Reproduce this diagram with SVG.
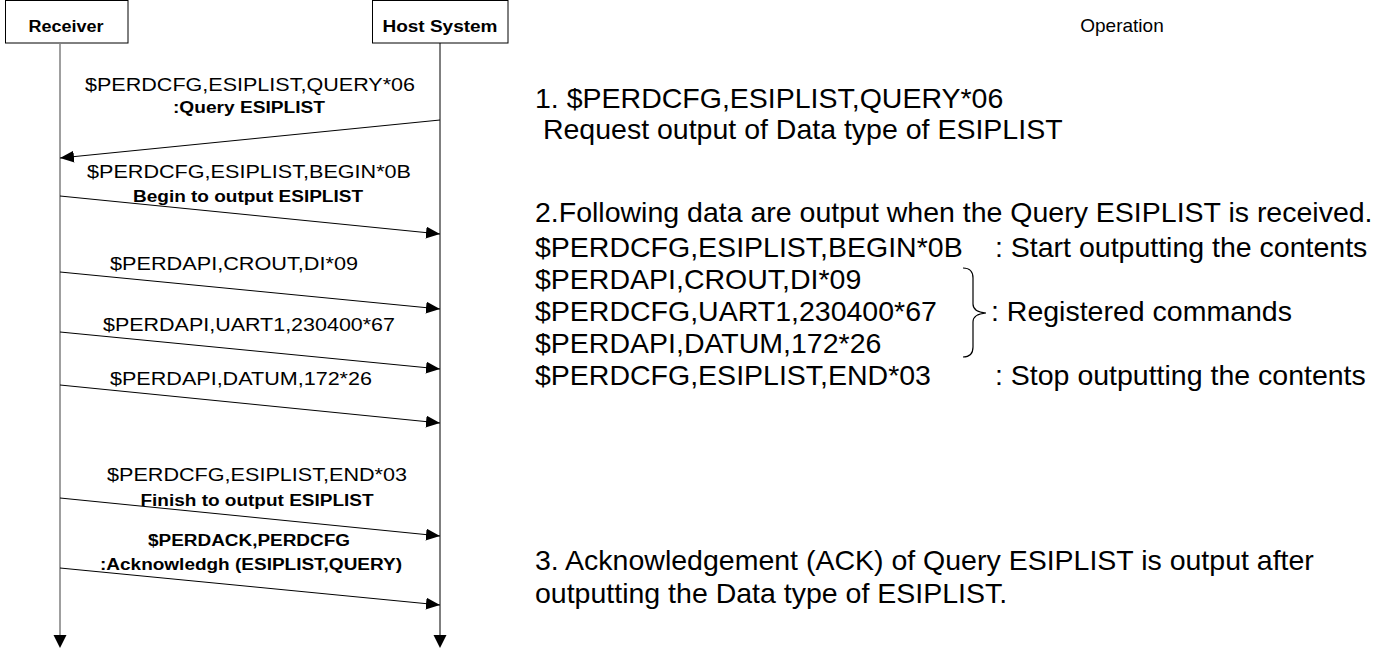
<svg xmlns="http://www.w3.org/2000/svg" width="1382" height="650" viewBox="0 0 1382 650">
  <style>
    .box { fill: #ffffff; stroke: #000000; stroke-width: 1; }
    .head { font-family: "Liberation Sans", Arial, sans-serif; font-size: 16px; font-weight: bold; fill: #000; text-anchor: middle; }
    .msg { font-family: "Liberation Sans", Arial, sans-serif; font-size: 18px; fill: #000; text-anchor: middle; }
    .note { font-family: "Liberation Sans", Arial, sans-serif; font-size: 16px; font-weight: bold; fill: #000; text-anchor: middle; }
    .op { font-family: "Liberation Sans", Arial, sans-serif; font-size: 28.5px; fill: #000; }
    .title { font-family: "Liberation Sans", Arial, sans-serif; font-size: 19px; fill: #000; text-anchor: middle; }
    .life-r { stroke: #7f7f7f; stroke-width: 1.5; fill: none; }
    .life-h { stroke: #000000; stroke-width: 1; fill: none; }
    .wire { stroke: #000000; stroke-width: 1; fill: none; marker-end: url(#tip); }
    .brace { stroke: #000000; stroke-width: 1.2; fill: none; }
  </style>
  <defs>
    <marker id="tip" markerUnits="userSpaceOnUse" markerWidth="15" markerHeight="13" refX="14" refY="6" orient="auto">
      <path d="M0,0 L14,6 L0,12 Z" fill="#000"/>
    </marker>
  </defs>

  <rect width="1382" height="650" fill="#ffffff"/>

  <!-- participants -->
  <g id="receiver">
    <rect class="box" x="5.5" y="0.5" width="122.5" height="42.5"/>
    <text class="head" x="66" y="32" textLength="75" lengthAdjust="spacingAndGlyphs">Receiver</text>
    <line class="life-r" x1="60" y1="43" x2="60" y2="636"/>
    <path d="M53.5,635 L66.5,635 L60,648 Z" fill="#000"/>
  </g>
  <g id="host">
    <rect class="box" x="372.5" y="0.5" width="135.5" height="42.5"/>
    <text class="head" x="440" y="32" textLength="115" lengthAdjust="spacingAndGlyphs">Host System</text>
    <line class="life-h" x1="440" y1="43" x2="440" y2="636"/>
    <path d="M433.5,635 L446.5,635 L440,648 Z" fill="#000"/>
  </g>

  <!-- messages -->
  <g id="connectors">
    <line class="wire" x1="440" y1="120" x2="60" y2="158"/>
    <line class="wire" x1="60" y1="196" x2="440" y2="234"/>
    <line class="wire" x1="60" y1="272" x2="440" y2="309"/>
    <line class="wire" x1="60" y1="332" x2="440" y2="369"/>
    <line class="wire" x1="60" y1="385" x2="440" y2="423"/>
    <line class="wire" x1="60" y1="498" x2="440" y2="536"/>
    <line class="wire" x1="60" y1="568" x2="440" y2="605"/>
  </g>

  <g id="msg-query">
    <text class="msg" x="250" y="91" textLength="330" lengthAdjust="spacingAndGlyphs">$PERDCFG,ESIPLIST,QUERY*06</text>
    <text class="note" x="249" y="113" textLength="152" lengthAdjust="spacingAndGlyphs">:Query ESIPLIST</text>
  </g>
  <g id="msg-begin">
    <text class="msg" x="249" y="178" textLength="324" lengthAdjust="spacingAndGlyphs">$PERDCFG,ESIPLIST,BEGIN*0B</text>
    <text class="note" x="248" y="202" textLength="230" lengthAdjust="spacingAndGlyphs">Begin to output ESIPLIST</text>
  </g>
  <g id="msg-crout">
    <text class="msg" x="234" y="270" textLength="248" lengthAdjust="spacingAndGlyphs">$PERDAPI,CROUT,DI*09</text>
  </g>
  <g id="msg-uart">
    <text class="msg" x="249" y="331" textLength="292" lengthAdjust="spacingAndGlyphs">$PERDAPI,UART1,230400*67</text>
  </g>
  <g id="msg-datum">
    <text class="msg" x="241" y="385" textLength="262" lengthAdjust="spacingAndGlyphs">$PERDAPI,DATUM,172*26</text>
  </g>
  <g id="msg-end">
    <text class="msg" x="257" y="481" textLength="300" lengthAdjust="spacingAndGlyphs">$PERDCFG,ESIPLIST,END*03</text>
    <text class="note" x="257" y="506" textLength="233" lengthAdjust="spacingAndGlyphs">Finish to output ESIPLIST</text>
  </g>
  <g id="msg-ack">
    <text class="note" x="249" y="546" textLength="202" lengthAdjust="spacingAndGlyphs">$PERDACK,PERDCFG</text>
    <text class="note" x="251" y="570" textLength="302" lengthAdjust="spacingAndGlyphs">:Acknowledgh (ESIPLIST,QUERY)</text>
  </g>

  <!-- operation notes -->
  <g id="operation">
    <text class="title" x="1122" y="32">Operation</text>

    <text class="op" x="535" y="108">1. $PERDCFG,ESIPLIST,QUERY*06</text>
    <text class="op" x="535" y="139" xml:space="preserve"> Request output of Data type of ESIPLIST</text>

    <text class="op" x="535" y="222">2.Following data are output when the Query ESIPLIST is received.</text>
    <text class="op" x="535" y="257">$PERDCFG,ESIPLIST,BEGIN*0B</text>
    <text class="op" x="995" y="257">: Start outputting the contents</text>
    <text class="op" x="535" y="289">$PERDAPI,CROUT,DI*09</text>
    <text class="op" x="535" y="321">$PERDCFG,UART1,230400*67</text>
    <text class="op" x="991" y="321">: Registered commands</text>
    <text class="op" x="535" y="353">$PERDAPI,DATUM,172*26</text>
    <text class="op" x="535" y="385">$PERDCFG,ESIPLIST,END*03</text>
    <text class="op" x="995" y="385">: Stop outputting the contents</text>
    <path class="brace" d="M963,268 Q973,268 973,278 L973,304 Q973,312 986,313 Q973,314 973,322 L973,347 Q973,357 963,357"/>

    <text class="op" x="535" y="570">3. Acknowledgement (ACK) of Query ESIPLIST is output after</text>
    <text class="op" x="535" y="603">outputting the Data type of ESIPLIST.</text>
  </g>
</svg>
